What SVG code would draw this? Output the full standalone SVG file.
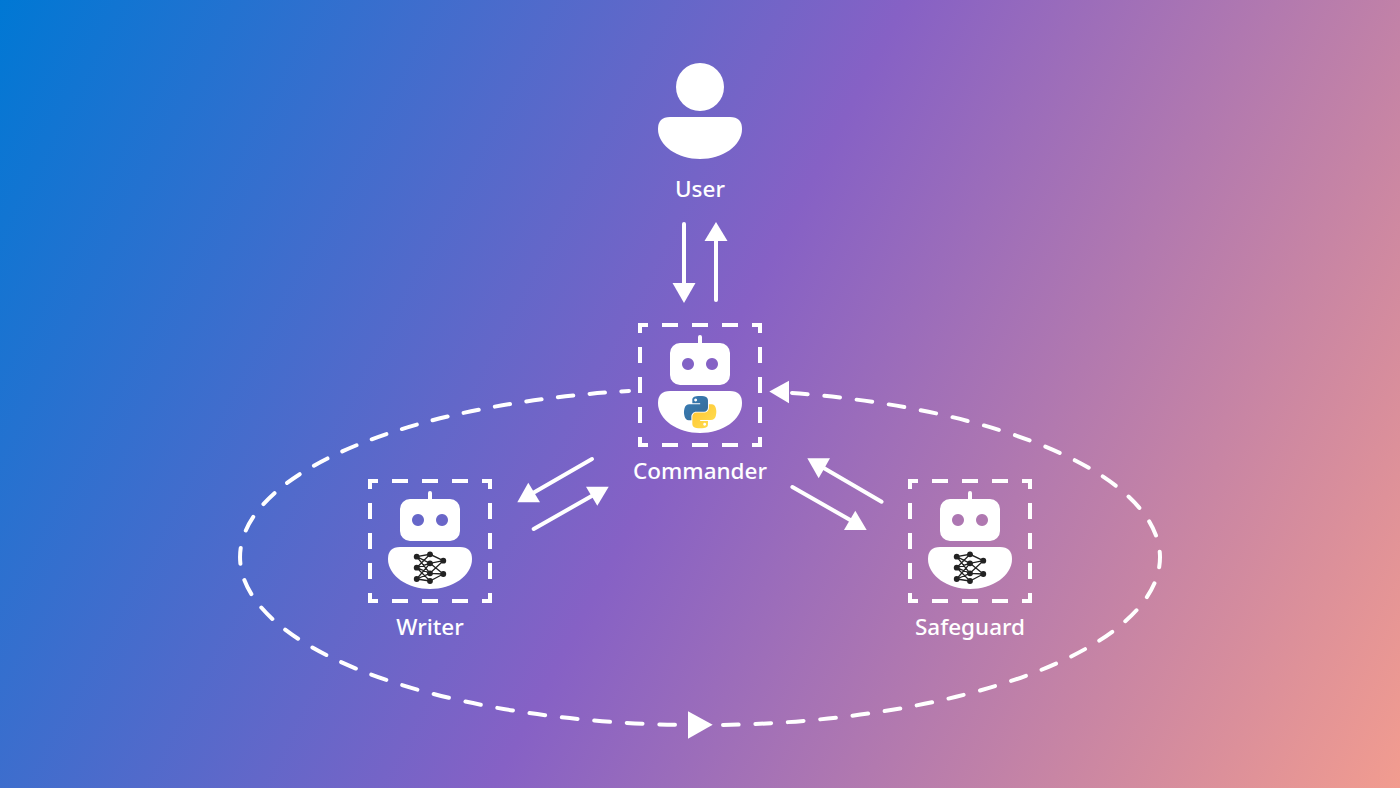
<svg xmlns="http://www.w3.org/2000/svg" xmlns:xlink="http://www.w3.org/1999/xlink" width="1400" height="788" viewBox="0 0 1400 788">
<style>
.lbl{font-family:"Noto Sans","Open Sans",sans-serif;font-size:22.5px;font-weight:500;fill:#fff;text-anchor:middle}
.w{fill:#fff}
.box{fill:none;stroke:#fff;stroke-width:4;stroke-dasharray:16 14;stroke-dashoffset:8}
.ln{fill:none;stroke:#fff;stroke-width:4;stroke-linecap:round}
.dash{fill:none;stroke:#fff;stroke-width:4;stroke-linecap:round;stroke-dasharray:16 17}
.ne{stroke:#222;stroke-width:1.3;fill:none}
.nn{fill:#222}
</style>
<defs>
<linearGradient id="bg" gradientUnits="userSpaceOnUse" x1="-11" y1="21" x2="1411" y2="767">
<stop offset="0" stop-color="#0078D4"/><stop offset="0.5" stop-color="#8661C5"/><stop offset="1" stop-color="#F29C8F"/>
</linearGradient>
<linearGradient id="pb" x1="0" y1="0" x2="1" y2="1"><stop offset="0" stop-color="#387EB8"/><stop offset="1" stop-color="#366994"/></linearGradient>
<linearGradient id="py" x1="0" y1="0" x2="1" y2="1"><stop offset="0" stop-color="#FFE052"/><stop offset="1" stop-color="#FFC331"/></linearGradient>
<path id="body" d="M-30 0H30Q42 0 42 12C42 29 22 42 0 42C-22 42 -42 29 -42 12Q-42 0 -30 0Z"/>
<g id="robot">
<rect class="w" x="-2" y="-8" width="4" height="10" rx="2"/>
<path class="w" fill-rule="evenodd" d="M-20 0H20A10 10 0 0 1 30 10V32A10 10 0 0 1 20 42H-20A10 10 0 0 1 -30 32V10A10 10 0 0 1 -20 0ZM-12 15a6 6 0 1 0 0.01 0ZM12 15a6 6 0 1 0 0.01 0Z"/>
<use href="#body" class="w" y="48"/>
<path class="box" d="M0 -18H60V102H-60V-18Z"/>
</g>
<g id="net">
<path class="ne" d="M-13.3 2.7L0 .3L13.3 6.7M-13.3 2.7L0 9.3L13.3 6.7M-13.3 2.7L0 19.3L13.3 20M-13.3 13.7L0 .3M-13.3 13.7L0 9.3L13.3 20M-13.3 13.7L0 19.3L13.3 6.7M-13.3 13.7L0 27L13.3 20M-13.3 25L0 9.3M-13.3 25L0 19.3M-13.3 25L0 27"/>
<circle class="nn" cx="-13.3" cy="2.7" r="2.9"/><circle class="nn" cx="0" cy=".3" r="2.9"/><circle class="nn" cx="13.3" cy="6.7" r="2.9"/>
<circle class="nn" cx="-13.3" cy="13.7" r="2.9"/><circle class="nn" cx="0" cy="9.3" r="2.9"/><circle class="nn" cx="0" cy="19.3" r="2.9"/>
<circle class="nn" cx="13.3" cy="20" r="2.9"/><circle class="nn" cx="-13.3" cy="25" r="2.9"/><circle class="nn" cx="0" cy="27" r="2.9"/>
</g>
</defs>
<rect id="background" width="1400" height="788" fill="url(#bg)"/>
<g id="connectors">
<path class="ln" d="M684 224V285"/><polygon class="w" points="672.5,283 695.5,283 684,303"/>
<path class="ln" d="M716 300V239"/><polygon class="w" points="704.5,241 727.5,241 716,222"/>
<path class="ln" d="M592 459L533 493"/><polygon class="w" points="517.3,502.3 540,502.3 528.3,482.7"/>
<path class="ln" d="M533.7 529L597 493"/><polygon class="w" points="586,486.7 608.7,486.7 597.3,505.7"/>
<path class="ln" d="M792.4 487L852 521"/><polygon class="w" points="844,530 866.7,530 855.3,510.7"/>
<path class="ln" d="M881.6 501.7L822 467"/><polygon class="w" points="807.3,458.3 830,458.3 818.7,478.3"/>
<path class="dash" pathLength="511" d="M240.7 548A460 168 0 0 0 675 724.8"/>
<path class="dash" pathLength="454" stroke-dashoffset="16" d="M241 546A460 168 0 0 1 629 391"/>
<path class="dash" pathLength="940" d="M723 725A460 168 0 0 0 1160 557A460 168 0 0 0 792 393"/>
<polygon class="w" points="688,711.3 688,738.7 712.7,724.7"/>
<polygon class="w" points="769.3,391.5 789,380.7 789,403.3"/>
</g>
<g id="user">
<circle class="w" cx="700" cy="87" r="24"/>
<use href="#body" class="w" x="700" y="117"/>
<text class="lbl" x="700" y="197">User</text>
</g>
<g id="commander">
<use href="#robot" x="700" y="343"/>
<g transform="translate(684,396) scale(0.291)">
<path fill="url(#pb)" fill-rule="evenodd" d="M54.9 0C50.3 0 46 .4 42.1 1.1C30.7 3.1 28.6 7.3 28.6 15V25.2H55.5V28.6H18.5C10.7 28.6 3.9 33.3 1.8 42.2C-.7 52.4-.8 58.8 1.8 69.4C3.7 77.4 8.3 83 16.1 83H25.3V70.8C25.3 62 33 54.2 42.1 54.2H68.9C76.4 54.2 82.4 48.1 82.4 40.6V15C82.4 7.7 76.3 2.3 68.9 1.1C64.3.3 59.5 0 54.9 0ZM40 9a5 5 0 1 0 .01 0Z"/>
<path fill="url(#py)" fill-rule="evenodd" transform="rotate(180 55.5 55.5)" d="M54.9 0C50.3 0 46 .4 42.1 1.1C30.7 3.1 28.6 7.3 28.6 15V25.2H55.5V28.6H18.5C10.7 28.6 3.9 33.3 1.8 42.2C-.7 52.4-.8 58.8 1.8 69.4C3.7 77.4 8.3 83 16.1 83H25.3V70.8C25.3 62 33 54.2 42.1 54.2H68.9C76.4 54.2 82.4 48.1 82.4 40.6V15C82.4 7.7 76.3 2.3 68.9 1.1C64.3.3 59.5 0 54.9 0ZM40 9a5 5 0 1 0 .01 0Z"/>
</g>
<text class="lbl" x="700" y="479">Commander</text>
</g>
<g id="writer">
<use href="#robot" x="430" y="499"/>
<use href="#net" x="430" y="554"/>
<text class="lbl" x="430" y="635">Writer</text>
</g>
<g id="safeguard">
<use href="#robot" x="970" y="499"/>
<use href="#net" x="970" y="554"/>
<text class="lbl" x="970" y="635">Safeguard</text>
</g>
</svg>
